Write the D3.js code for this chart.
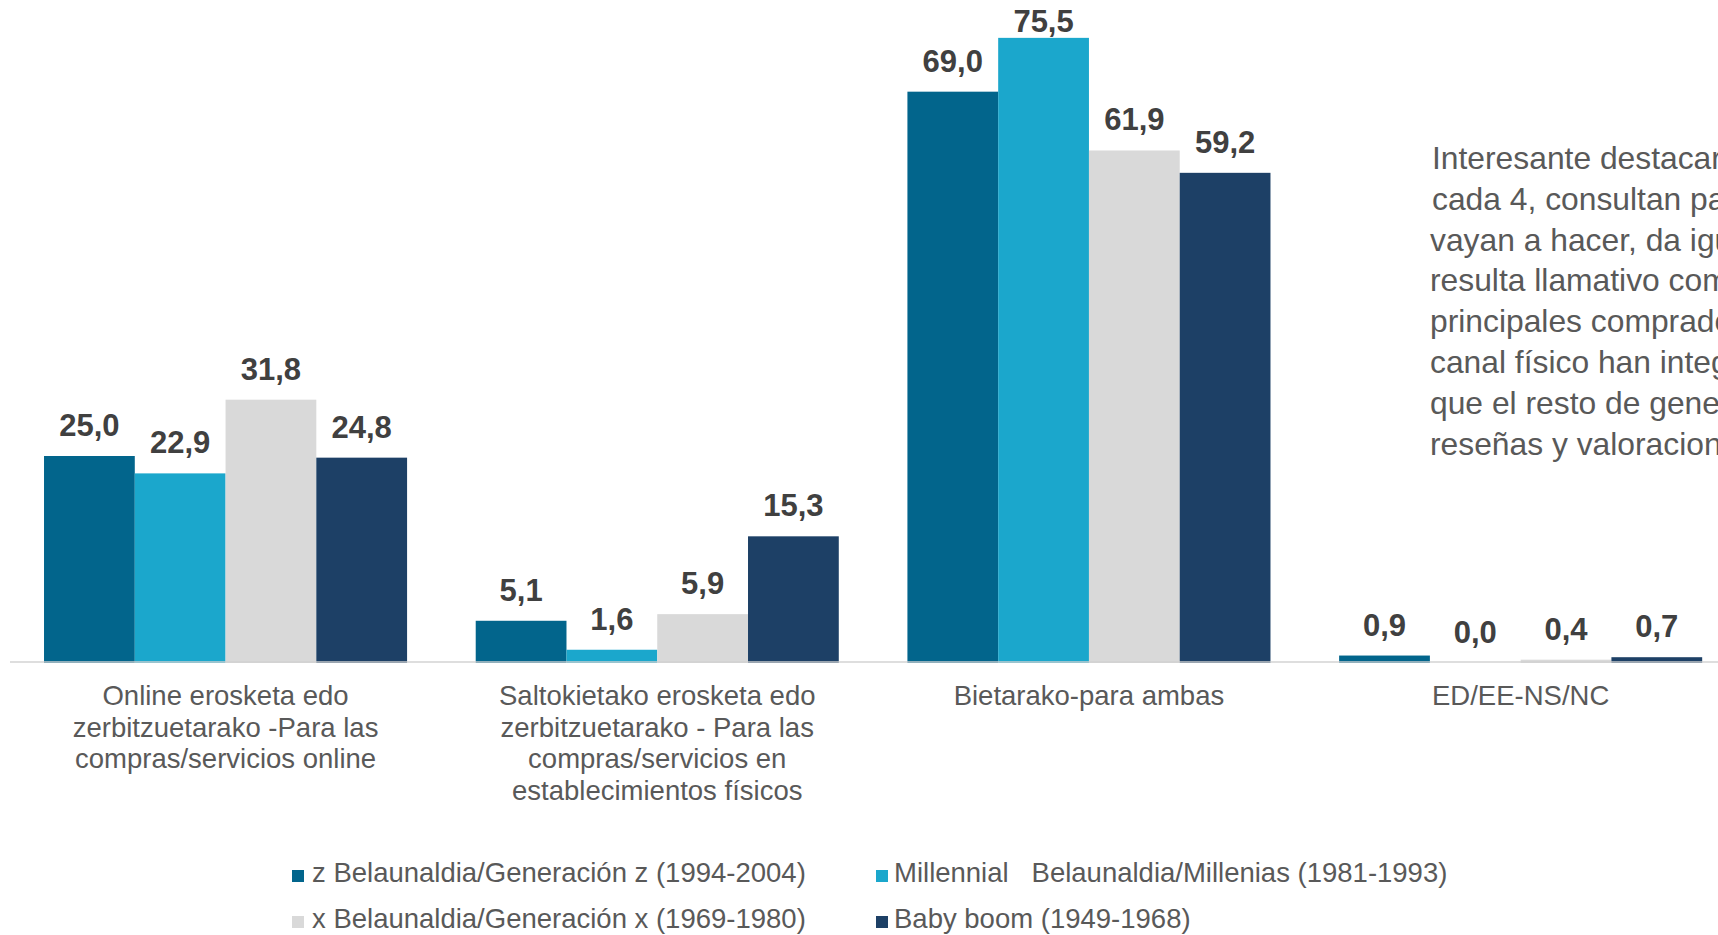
<!DOCTYPE html>
<html>
<head>
<meta charset="utf-8">
<script src="https://cdn.jsdelivr.net/npm/d3@7/dist/d3.min.js"></script>
<style>
  html, body { margin: 0; padding: 0; background: #ffffff; }
  svg { display: block; overflow: hidden; }
  text { font-family: "Liberation Sans", Arial, sans-serif; }
</style>
</head>
<body>
<svg id="chart" width="1718" height="935"></svg>
<script>
// Purchase channel by generation (%)
const categories = [
  "Online erosketa edo zerbitzuetarako -Para las compras/servicios online",
  "Saltokietako erosketa edo zerbitzuetarako - Para las compras/servicios en establecimientos físicos",
  "Bietarako-para ambas",
  "ED/EE-NS/NC"
];
const categoryLines = [
  ["Online erosketa edo", "zerbitzuetarako -Para las", "compras/servicios online"],
  ["Saltokietako erosketa edo", "zerbitzuetarako - Para las", "compras/servicios en", "establecimientos físicos"],
  ["Bietarako-para ambas"],
  ["ED/EE-NS/NC"]
];
const seriesNames = [
  "z Belaunaldia/Generación z (1994-2004)",
  "Millennial   Belaunaldia/Millenias (1981-1993)",
  "x Belaunaldia/Generación x (1969-1980)",
  "Baby boom (1949-1968)"
];
const genZ       = [25.0, 5.1, 69.0, 0.9];
const millennial = [22.9, 1.6, 75.5, 0.0];
const genX       = [31.8, 5.9, 61.9, 0.4];
const babyBoom   = [24.8, 15.3, 59.2, 0.7];
const seriesValues = [genZ, millennial, genX, babyBoom];
const colors = ["#02658C", "#1BA7CC", "#D9D9D9", "#1D4066"];

const noteLines = [
  "Interesante destacar",
  "cada 4, consultan para",
  "vayan a hacer, da igual",
  "resulta llamativo como",
  "principales compradores",
  "canal físico han integrado",
  "que el resto de generaciones",
  "reseñas y valoraciones"
];

const svg = d3.select("#chart");

const x0 = d3.scaleBand()
  .domain(categories)
  .range([9.7, 1736.5])
  .paddingInner(0.159)
  .paddingOuter(0.0795);

const x1 = d3.scaleBand()
  .domain(d3.range(seriesNames.length))
  .range([0, x0.bandwidth()])
  .padding(0);

const y = d3.scaleLinear().domain([0, 80]).range([663, 0.6]);

const fmt = v => d3.format(".1f")(v).replace(".", ",");

// Bars
const groups = svg.append("g").selectAll("g")
  .data(categories)
  .join("g")
  .attr("transform", d => `translate(${x0(d)},0)`);

groups.selectAll("rect")
  .data((d, ci) => seriesValues.map((vals, si) => ({ si, v: vals[ci] })))
  .join("rect")
  .attr("x", d => x1(d.si))
  .attr("width", x1.bandwidth())
  .attr("y", d => y(d.v))
  .attr("height", d => y(0) - y(d.v))
  .attr("fill", d => colors[d.si]);

// Baseline
svg.append("line")
  .attr("x1", 10).attr("x2", 1718)
  .attr("y1", y(0) - 1).attr("y2", y(0) - 1)
  .attr("stroke", "#D0D0D0")
  .attr("stroke-opacity", 0.7)
  .attr("stroke-width", 2);

// Value labels
groups.selectAll("text.value")
  .data((d, ci) => seriesValues.map((vals, si) => ({ si, v: vals[ci] })))
  .join("text")
  .attr("class", "value")
  .attr("x", d => x1(d.si) + x1.bandwidth() / 2)
  .attr("y", d => Math.max(y(d.v) - 20, 32))
  .attr("text-anchor", "middle")
  .attr("font-size", 31)
  .attr("font-weight", "bold")
  .attr("fill", "#404040")
  .text(d => fmt(d.v));

// Category labels
categories.forEach((c, ci) => {
  const t = svg.append("text")
    .attr("text-anchor", "middle")
    .attr("font-size", 27.5)
    .attr("fill", "#595959");
  categoryLines[ci].forEach((line, li) => {
    t.append("tspan")
      .attr("x", x0(c) + x0.bandwidth() / 2)
      .attr("y", 705 + li * 31.5)
      .text(line);
  });
});

// Legend
const legendPos = [
  { mx: 292, tx: 312, by: 882 },
  { mx: 876, tx: 894, by: 882 },
  { mx: 292, tx: 312, by: 928 },
  { mx: 876, tx: 894, by: 928 }
];
const legend = svg.append("g");
seriesNames.forEach((name, i) => {
  const p = legendPos[i];
  legend.append("rect")
    .attr("x", p.mx).attr("y", p.by - 12)
    .attr("width", 12).attr("height", 12)
    .attr("fill", colors[i]);
  legend.append("text")
    .attr("x", p.tx).attr("y", p.by)
    .attr("font-size", 27.5)
    .attr("fill", "#595959")
    .attr("xml:space", "preserve")
    .style("white-space", "pre")
    .text(name);
});

// Side note
const note = svg.append("text")
  .attr("font-size", 31.8)
  .attr("fill", "#595959");
noteLines.forEach((line, i) => {
  note.append("tspan")
    .attr("x", i < 2 ? 1432 : 1430)
    .attr("y", 169 + i * 40.8)
    .text(line);
});
</script>
</body>
</html>
